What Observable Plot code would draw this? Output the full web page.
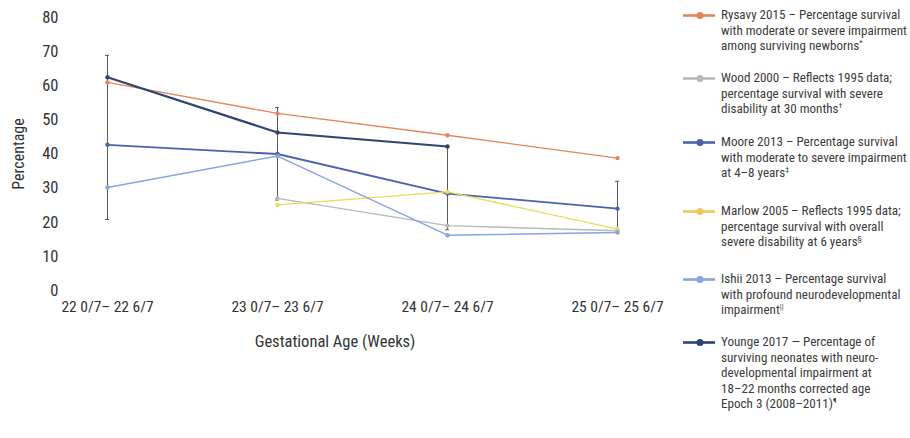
<!DOCTYPE html>
<html>
<head>
<meta charset="utf-8">
<script src="https://cdn.jsdelivr.net/npm/d3@7"></script>
<script src="https://cdn.jsdelivr.net/npm/@observablehq/plot@0.6"></script>
<style>
  html, body { margin: 0; padding: 0; background: #fff; }
  body { width: 910px; height: 438px; overflow: hidden; position: relative;
         font-family: "Roboto Condensed", Roboto, sans-serif; }
  #chart { position: absolute; left: 0; top: 0; }
  #legend { position: absolute; left: 682px; top: 0; width: 228px; color: #3c3c3c; font-size: 13.1px; line-height: 15.6px; }
  .entry { position: absolute; left: 0; display: flex; align-items: flex-start; white-space: nowrap; }
  .entry svg { flex: none; margin-right: 5px; }
  sup { font-size: 8px; line-height: 0; vertical-align: 5px; }
</style>
</head>
<body>
<div id="chart"></div>
<div id="legend"></div>
<script>
const categories = ["22 0/7– 22 6/7", "23 0/7– 23 6/7", "24 0/7– 24 6/7", "25 0/7– 25 6/7"];
const yTicks = [0, 10, 20, 30, 40, 50, 60, 70, 80];

const seriesNames = ["Rysavy 2015", "Wood 2000", "Moore 2013", "Marlow 2005", "Ishii 2013", "Younge 2017"];
const seriesColors = ["#e8845c", "#b9b9b9", "#4b63ad", "#e6dc5a", "#86a6e0", "#2e4572"];
const legendColors = ["#e8845c", "#b9b9b9", "#4b63ad", "#efc75a", "#86a6e0", "#2e4572"];

const rysavy = [61, 51.9, 45.5, 38.8];
const wood   = [null, 27, 19, 17.5];
const moore  = [42.7, 40, 28.4, 24];
const marlow = [null, 25.1, 28.9, 18];
const ishii  = [30.2, 39.4, 16.2, 17];
const younge = [62.5, 46.3, 42.2, null];

const mooreLow  = [20.8, 26.5, 17.8, 17.5];
const mooreHigh = [68.9, 53.6, 42.1, 32];

const legendLines = [
  ["Rysavy 2015 – Percentage survival", "with moderate or severe impairment", "among surviving newborns<sup>*</sup>"],
  ["Wood 2000 – Reflects 1995 data;", "percentage survival with severe", "disability at 30 months<sup>†</sup>"],
  ["Moore 2013 – Percentage survival", "with moderate to severe impairment", "at 4–8 years<sup>‡</sup>"],
  ["Marlow 2005 – Reflects 1995 data;", "percentage survival with overall", "severe disability at 6 years<sup>§</sup>"],
  ["Ishii 2013 – Percentage survival", "with profound neurodevelopmental", "impairment<sup>||</sup>"],
  ["Younge 2017 — Percentage of", "surviving neonates with neuro-", "developmental impairment at", "18–22 months corrected age", "Epoch 3 (2008–2011)<sup>¶</sup>"]
];
const legendTops = [7, 70, 134, 203, 271, 334];

const allSeries = [rysavy, wood, moore, marlow, ishii, younge];
const data = [];
allSeries.forEach((vals, s) => {
  vals.forEach((v, i) => {
    if (v != null) data.push({series: seriesNames[s], cat: categories[i], value: v});
  });
});
const bars = categories.map((c, i) => ({cat: c, lo: mooreLow[i], hi: mooreHigh[i]}));

const marks = [
  Plot.axisY({ticks: yTicks, tickSize: 0, tickPadding: 6, label: null, fontSize: 16.5, fill: "#333"}),
  Plot.axisX({tickSize: 0, tickPadding: 10, label: null, fontSize: 15.5, fill: "#333"}),
  Plot.ruleX(bars, {x: "cat", y1: "lo", y2: "hi", stroke: "#5a5a5a", strokeWidth: 1}),
  Plot.ruleY(bars, {x1: "cat", x2: "cat", y: "lo", stroke: "#5a5a5a", insetLeft: -2, insetRight: -2}),
  Plot.ruleY(bars, {x1: "cat", x2: "cat", y: "hi", stroke: "#5a5a5a", insetLeft: -2, insetRight: -2})
];
seriesNames.forEach((name, s) => {
  const d = data.filter(r => r.series === name);
  marks.push(Plot.line(d, {x: "cat", y: "value", stroke: seriesColors[s], strokeWidth: name === "Younge 2017" ? 2.2 : (name === "Moore 2013" ? 1.8 : 1.4)}));
  marks.push(Plot.dot(d, {x: "cat", y: "value", fill: seriesColors[s], r: 2.2}));
});
marks.push(Plot.text(["Percentage"], {frameAnchor: "left", textAnchor: "middle", lineAnchor: "middle", rotate: -90, dx: -46, fontSize: 16, fill: "#333"}));
marks.push(Plot.text(["Gestational Age (Weeks)"], {frameAnchor: "bottom", textAnchor: "middle", lineAnchor: "middle", dy: 51, dx: -27, fontSize: 16.5, fill: "#333"}));

const chart = Plot.plot({
  width: 680,
  height: 438,
  marginLeft: 64,
  marginRight: 21,
  marginTop: 17,
  marginBottom: 148,
  style: {fontFamily: '"Roboto Condensed", Roboto, sans-serif', background: "#fff", overflow: "visible"},
  x: {type: "point", domain: categories, padding: 0.25},
  y: {domain: [0, 80]},
  marks
});
document.getElementById("chart").appendChild(chart);

const legend = document.getElementById("legend");
legendLines.forEach((lines, s) => {
  const e = document.createElement("div");
  e.className = "entry";
  e.style.top = legendTops[s] + "px";
  e.innerHTML = `<svg width="34" height="16"><line x1="1" x2="33" y1="8.5" y2="8.5" stroke="${legendColors[s]}" stroke-width="2.6"/><circle cx="18" cy="8.5" r="3.6" fill="${legendColors[s]}"/></svg><div>${lines.join("<br>")}</div>`;
  legend.appendChild(e);
});
</script>
</body>
</html>
